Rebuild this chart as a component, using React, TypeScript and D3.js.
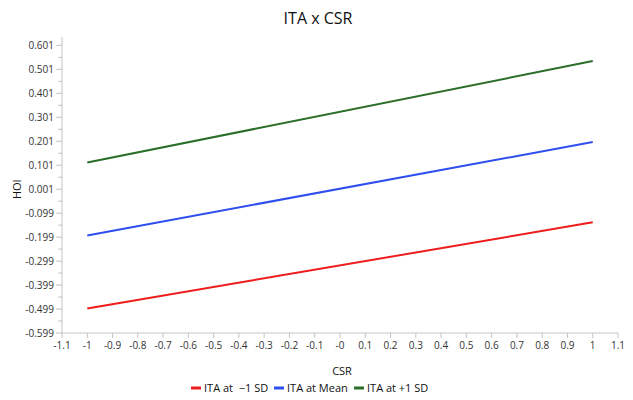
import React, { useEffect, useRef } from "react";
import * as d3 from "d3";

// CSR moderator levels (x) and predicted HOI for each ITA level
const csrPoints = [-1, 1];
const lowITA = [-0.497, -0.137];
const meanITA = [-0.192, 0.198];
const highITA = [0.1125, 0.5355];

const seriesNames = ["ITA at  \u22121 SD", "ITA at Mean", "ITA at +1 SD"];
const seriesColors = ["#ee1c1c", "#2f4ef0", "#2a6e2a"];

const xTicks = [-1.1, -1, -0.9, -0.8, -0.7, -0.6, -0.5, -0.4, -0.3, -0.2, -0.1, 0, 0.1, 0.2, 0.3, 0.4, 0.5, 0.6, 0.7, 0.8, 0.9, 1, 1.1];
const xTickLabels = ["-1.1", "-1", "-0.9", "-0.8", "-0.7", "-0.6", "-0.5", "-0.4", "-0.3", "-0.2", "-0.1", "-0", "0.1", "0.2", "0.3", "0.4", "0.5", "0.6", "0.7", "0.8", "0.9", "1", "1.1"];
const yTicks = [-0.599, -0.499, -0.399, -0.299, -0.199, -0.099, 0.001, 0.101, 0.201, 0.301, 0.401, 0.501, 0.601];
const yTickLabels = ["-0.599", "-0.499", "-0.399", "-0.299", "-0.199", "-0.099", "0.001", "0.101", "0.201", "0.301", "0.401", "0.501", "0.601"];
const yMinorTicks = [-0.549, -0.449, -0.349, -0.249, -0.149, -0.049, 0.051, 0.151, 0.251, 0.351, 0.451, 0.551];

const App = () => {
  const ref = useRef<SVGSVGElement>(null);

  useEffect(() => {
    const width = 633;
    const height = 400;
    const margin = { top: 37, right: 15, bottom: 67, left: 62 };
    const font = "'Open Sans', 'Noto Sans', sans-serif";

    const svg = d3.select(ref.current);
    svg.selectAll("*").remove();

    const x = d3.scaleLinear().domain([-1.1, 1.1]).range([margin.left, width - margin.right]);
    const y = d3.scaleLinear().domain([-0.599, 0.636]).range([height - margin.bottom, margin.top]);

    const axisColor = "#c4c4c4";
    const labelColor = "#333";

    // title
    svg.append("text")
      .attr("x", 318)
      .attr("y", 24)
      .attr("text-anchor", "middle")
      .style("font-family", font)
      .style("font-size", "16px")
      .attr("fill", "#111")
      .text("ITA x CSR");

    // y axis
    const yAxis = svg.append("g");
    yAxis.append("line")
      .attr("x1", margin.left).attr("x2", margin.left)
      .attr("y1", y.range()[1]).attr("y2", y.range()[0])
      .attr("stroke", axisColor);
    yAxis.selectAll("line.minor")
      .data(yMinorTicks)
      .join("line")
      .attr("class", "minor")
      .attr("x1", margin.left - 4).attr("x2", margin.left)
      .attr("y1", d => y(d)).attr("y2", d => y(d))
      .attr("stroke", axisColor);
    yAxis.selectAll("line.major")
      .data(yTicks)
      .join("line")
      .attr("class", "major")
      .attr("x1", margin.left - 6).attr("x2", margin.left)
      .attr("y1", d => y(d)).attr("y2", d => y(d))
      .attr("stroke", axisColor);
    yAxis.selectAll("text")
      .data(yTicks)
      .join("text")
      .attr("x", margin.left - 8)
      .attr("y", d => y(d))
      .attr("dy", "0.35em")
      .attr("text-anchor", "end")
      .style("font-family", font)
      .style("font-size", "10px")
      .attr("fill", labelColor)
      .text((d, i) => yTickLabels[i]);

    // x axis
    const xAxis = svg.append("g");
    const y0 = y(-0.599);
    xAxis.append("line")
      .attr("x1", x(-1.1)).attr("x2", x(1.1))
      .attr("y1", y0).attr("y2", y0)
      .attr("stroke", axisColor);
    xAxis.selectAll("line.tick")
      .data(xTicks)
      .join("line")
      .attr("class", "tick")
      .attr("x1", d => x(d)).attr("x2", d => x(d))
      .attr("y1", y0).attr("y2", y0 + 5)
      .attr("stroke", axisColor);
    xAxis.selectAll("text")
      .data(xTicks)
      .join("text")
      .attr("x", d => x(d))
      .attr("y", y0 + 16)
      .attr("text-anchor", "middle")
      .style("font-family", font)
      .style("font-size", "10px")
      .attr("fill", labelColor)
      .text((d, i) => xTickLabels[i]);

    // axis titles
    svg.append("text")
      .attr("transform", `translate(21,${y(0.001)}) rotate(-90)`)
      .attr("text-anchor", "middle")
      .style("font-family", font)
      .style("font-size", "11px")
      .attr("fill", "#111")
      .text("HOI");
    svg.append("text")
      .attr("x", 342)
      .attr("y", 375)
      .attr("text-anchor", "middle")
      .style("font-family", font)
      .style("font-size", "11px")
      .attr("fill", "#111")
      .text("CSR");

    // lines
    const line = d3.line<[number, number]>()
      .x(d => x(d[0]))
      .y(d => y(d[1]));
    [lowITA, meanITA, highITA].forEach((vals, i) => {
      svg.append("path")
        .datum(csrPoints.map((c, j) => [c, vals[j]] as [number, number]))
        .attr("d", line)
        .attr("fill", "none")
        .attr("stroke", seriesColors[i])
        .attr("stroke-width", 2);
    });

    // legend
    const legendX = [191, 274, 354];
    const legend = svg.append("g");
    seriesNames.forEach((name, i) => {
      legend.append("line")
        .attr("x1", legendX[i]).attr("x2", legendX[i] + 10)
        .attr("y1", 388).attr("y2", 388)
        .attr("stroke", seriesColors[i])
        .attr("stroke-width", 3);
      legend.append("text")
        .attr("x", legendX[i] + 13)
        .attr("y", 388)
        .attr("dy", "0.35em")
        .style("font-family", font)
        .style("font-size", "11px")
        .style("white-space", "pre")
        .attr("fill", "#111")
        .text(name);
    });
  }, []);

  return (
    <svg
      ref={ref}
      width={633}
      height={400}
      style={{ position: "absolute", left: 0, top: 0, background: "#fff" }}
    />
  );
};

export default App;
